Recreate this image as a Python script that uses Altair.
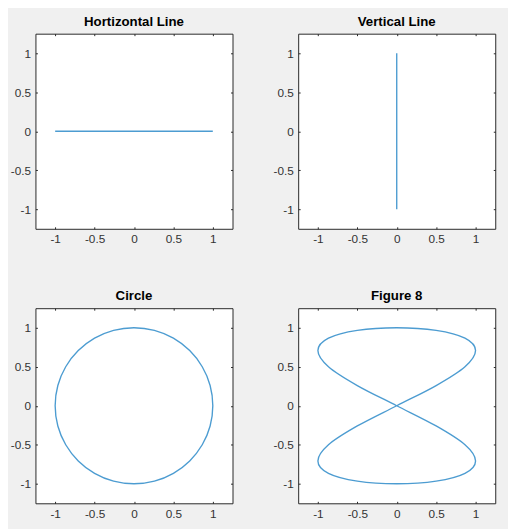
import altair as alt
import pandas as pd

# ---- data ----
hline_x = [-1, 1]
hline_y = [0, 0]

vline_x = [0, 0]
vline_y = [-1, 1]

circle_x = [1, 0.966, 0.866, 0.707, 0.5, 0.259, 0, -0.259, -0.5, -0.707, -0.866, -0.966,
            -1, -0.966, -0.866, -0.707, -0.5, -0.259, 0, 0.259, 0.5, 0.707, 0.866, 0.966]
circle_y = [0, 0.259, 0.5, 0.707, 0.866, 0.966, 1, 0.966, 0.866, 0.707, 0.5, 0.259,
            0, -0.259, -0.5, -0.707, -0.866, -0.966, -1, -0.966, -0.866, -0.707, -0.5, -0.259]

eight_x = [0, 0.5, 0.866, 1, 0.866, 0.5, 0, -0.5, -0.866, -1, -0.866, -0.5,
           0, 0.5, 0.866, 1, 0.866, 0.5, 0, -0.5, -0.866, -1, -0.866, -0.5]
eight_y = [1, 0.966, 0.866, 0.707, 0.5, 0.259, 0, -0.259, -0.5, -0.707, -0.866, -0.966,
           -1, -0.966, -0.866, -0.707, -0.5, -0.259, 0, 0.259, 0.5, 0.707, 0.866, 0.966]

tick_values = [-1, -0.5, 0, 0.5, 1]
titles = ["Hortizontal Line", "Vertical Line", "Circle", "Figure 8"]

LINE_COLOR = "#0072BD"
AX_COLOR = "#262626"
FONT = "Liberation Sans"
LABEL_EXPR = "datum.value < 0 ? '-' + format(-datum.value, '~g') : format(datum.value, '~g')"


def make_df(xs, ys):
    return pd.DataFrame({"x": xs, "y": ys, "i": list(range(len(xs)))})


def panel(xs, ys, title, interp="linear"):
    df = make_df(xs, ys)
    sc = alt.Scale(domain=[-1.25, 1.25], nice=False, zero=False)
    common = dict(values=tick_values, grid=False, domain=False, title=None,
                  tickSize=2, offset=-2, tickColor=AX_COLOR, tickWidth=1)
    line = alt.Chart(df).mark_line(
        color=LINE_COLOR, strokeWidth=1.4, interpolate=interp, opacity=0.7
    ).encode(
        x=alt.X("x:Q", scale=sc, axis=alt.Axis(orient="bottom", labelPadding=5,
                                               labelExpr=LABEL_EXPR, **common)),
        y=alt.Y("y:Q", scale=sc, axis=alt.Axis(orient="left", labelPadding=5,
                                               labelExpr=LABEL_EXPR, **common)),
        order="i:Q",
    )
    frame = alt.Chart(df).mark_point(opacity=0).encode(
        x=alt.X("x:Q", scale=sc, axis=alt.Axis(orient="top", labels=False, **common)),
        y=alt.Y("y:Q", scale=sc, axis=alt.Axis(orient="right", labels=False, **common)),
    )
    return alt.layer(line, frame).resolve_axis(x="independent", y="independent").properties(
        width=201, height=199,
        title=alt.TitleParams(title, font=FONT, fontSize=13.5, fontWeight="bold",
                              color="#000000", offset=5, anchor="middle"),
    )


p1 = panel(hline_x, hline_y, titles[0])
p2 = panel(vline_x, vline_y, titles[1])
p3 = panel(circle_x, circle_y, titles[2], interp="cardinal-closed")
p4 = panel(eight_x, eight_y, titles[3], interp="cardinal-closed")

chart = alt.vconcat(
    alt.hconcat(p1, p2, spacing=39),
    alt.hconcat(p3, p4, spacing=39),
    spacing=44,
).properties(
    background="#f0f0f0",
    padding={"left": 1, "top": 1, "right": 12, "bottom": 4},
).configure_view(
    stroke=AX_COLOR, strokeWidth=1, fill="white"
).configure_axis(
    labelFont=FONT, labelFontSize=12, labelColor="#333333"
)

chart.save("out.html", embed_options={"renderer": "svg", "actions": False})
